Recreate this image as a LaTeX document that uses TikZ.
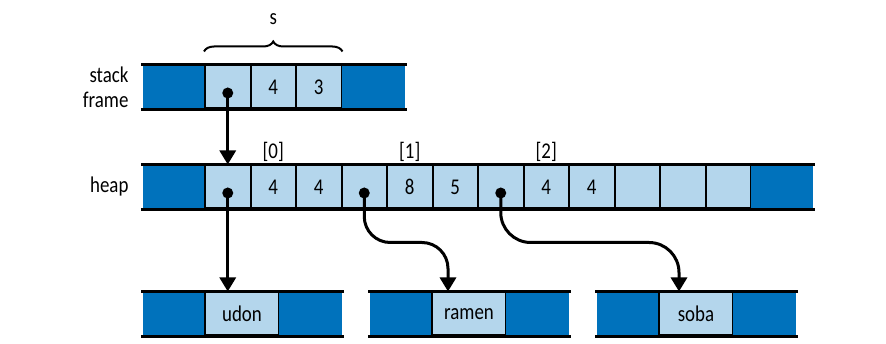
\documentclass[tikz,border=0pt]{standalone}
\usepackage{fontspec}
\setmainfont{Carlito}[FakeStretch=0.84]
\usepackage{tikz}
\usetikzlibrary{arrows.meta, positioning, decorations.pathreplacing}
\definecolor{darkblue}{HTML}{0072BC}
\definecolor{lightblue}{HTML}{B4D6EC}

\begin{document}
\begin{tikzpicture}[
  x=1pt, y=-1pt,
  cell/.style={draw=black, line width=2pt, fill=lightblue, minimum width=45.5pt, minimum height=43pt, inner sep=0pt, font=\fontsize{22.5}{24}\selectfont},
  endcell/.style={cell, draw=none, fill=darkblue, minimum width=62pt},
  rail/.style={line width=3.4pt},
  ptr/.style={-{Triangle[length=14pt, width=16pt]}, line width=3pt},
  dot/.style={circle, fill=black, inner sep=0pt, minimum size=11pt},
  lbl/.style={anchor=east, align=right, font=\fontsize{22.5}{25}\selectfont},
  idx/.style={inner sep=1pt, font=\fontsize{22.5}{24}\selectfont},
  brace/.style={decorate, decoration={brace, amplitude=10pt}, line width=2pt}
]
  \useasboundingbox (0,0) rectangle (886,344);

  % stack frame
  \node[endcell] (st0) at (174,87) {};
  \node[cell] (st1) at (227.75,87) {};
  \node[cell] (st2) at (273.25,87) {4};
  \node[cell] (st3) at (318.75,87) {3};
  \node[endcell, minimum width=63pt] (st4) at (373,87) {};
  \draw[rail] ([xshift=-1pt]st0.north west) -- ([xshift=1pt]st4.north east);
  \draw[rail] ([xshift=-1pt]st0.south west) -- ([xshift=1pt]st4.south east);
  \node[lbl] (stacklbl) at (132,87) {stack\\frame};
  \draw[brace] ([yshift=13pt]st1.north west) -- ([yshift=13pt]st3.north east)
    node[midway, above=22pt, font=\fontsize{22.5}{24}\selectfont] (slbl) {s};

  % heap
  \node[endcell] (h0) at (174,187) {};
  \foreach \i/\t in {1/{},2/4,3/4,4/{},5/8,6/5,7/{},8/4,9/4,10/{},11/{},12/{}}
    \node[cell] (h\i) at ({182.25+45.5*\i},187) {\t};
  \node[endcell] (h13) at (782,187) {};
  \draw[rail] ([xshift=-1pt]h0.north west) -- ([xshift=1pt]h13.north east);
  \draw[rail] ([xshift=-1pt]h0.south west) -- ([xshift=1pt]h13.south east);
  \node[lbl] (heaplbl) at (132,187) {heap};
  \node[idx, above=2pt of h2] (i0) {[0]};
  \node[idx, above=2pt of h5] (i1) {[1]};
  \node[idx, above=2pt of h8] (i2) {[2]};

  % strings
  \foreach \name/\x in {udon/143, ramen/370, soba/597} {
    \node[endcell] (\name-l) at ({\x+31},314) {};
    \node[cell, minimum width=74pt] (\name) at ({\x+99},314) {\name};
    \node[endcell, minimum width=63pt] (\name-r) at ({\x+167.5},314) {};
    \draw[rail] ([xshift=-1pt]\name-l.north west) -- ([xshift=1pt]\name-r.north east);
    \draw[rail] ([xshift=-1pt]\name-l.south west) -- ([xshift=1pt]\name-r.south east);
  }

  % pointers
  \node[dot] (sd) at ([yshift=-6pt]st1.center) {};
  \node[dot] (hd1) at ([yshift=-6pt]h1.center) {};
  \node[dot] (hd4) at ([yshift=-6pt]h4.center) {};
  \node[dot] (hd7) at ([yshift=-6pt]h7.center) {};
  \draw[ptr] (sd.center) -- (sd |- h1.north);
  \draw[ptr] (hd1.center) -- (hd1 |- udon.north);
  \draw[ptr, rounded corners=26pt] (hd4.center) -- ([yshift=-33pt]hd4 |- h4.south) -| ([xshift=-21pt]ramen.north);
  \draw[ptr, rounded corners=30pt] (hd7.center) -- ([yshift=-33pt]hd7 |- h7.south) -| ([xshift=-17pt]soba.north);
\end{tikzpicture}
\end{document}
